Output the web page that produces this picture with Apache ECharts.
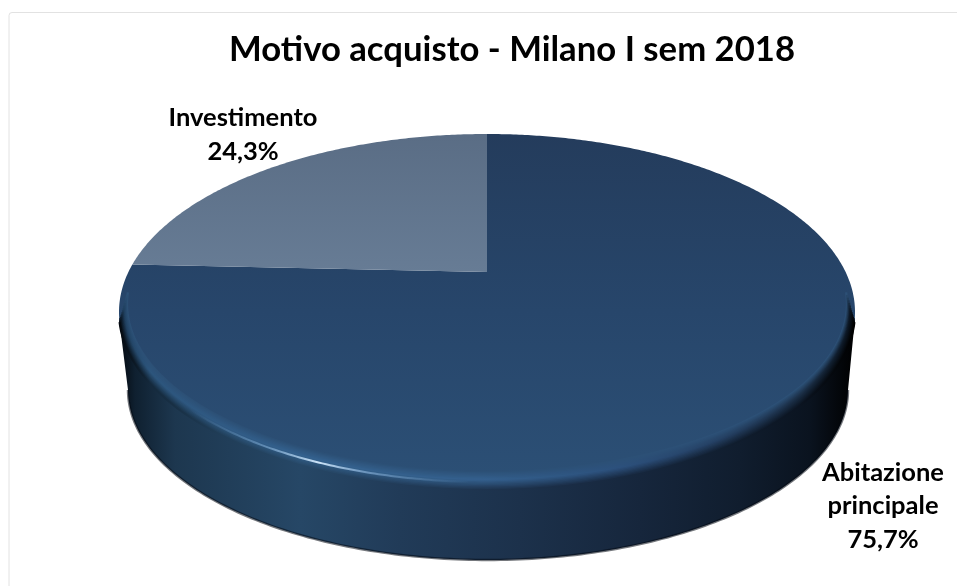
<!DOCTYPE html>
<html><head><meta charset="utf-8">
<style>html,body{margin:0;padding:0;background:#fff}#c{width:957px;height:586px}</style>
<script src="https://cdn.jsdelivr.net/npm/echarts@6/dist/echarts.min.js"></script>
</head><body><div id="c"></div>
<script>
const chartTitle = 'Motivo acquisto - Milano I sem 2018';
const categories = ['Abitazione\nprincipale', 'Investimento'];
const shares = [75.7, 24.3];
const shareLabels = ['75,7%', '24,3%'];

const G = echarts.graphic;
const W0 = 119, W1 = 855;
const lid = {cx: 487, cy: 312, rx: 368, ry: 178, k: 0.225};
const base = {cx: 488, cy: 390, rx: 360, ry: 170};
const sideStops = [[119,'#04090f'],[135,'#0f2030'],[175,'#1d374f'],[300,'#264766'],[400,'#213b58'],[520,'#1c314b'],[640,'#16263c'],[740,'#101d2e'],[810,'#0a131f'],[855,'#000000']];
const rimStops  = [[119,'#1c3a58'],[150,'#2c557c'],[300,'#34628f'],[480,'#34608e'],[620,'#2c507c'],[720,'#243f62'],[800,'#1b2f47'],[855,'#0a1420']];
const faceCol = '#2c5076';

function hex(c){return [1,3,5].map(i=>parseInt(c.substr(i,2),16));}
function mix(a,b,t){const p=hex(a),q=hex(b);return '#'+p.map((v,i)=>Math.round(v+(q[i]-v)*t).toString(16).padStart(2,'0')).join('');}
function sample(st,x){for(let i=1;i<st.length;i++){if(x<=st[i][0]){const t=(x-st[i-1][0])/(st[i][0]-st[i-1][0]);return mix(st[i-1][1],st[i][1],Math.max(0,t));}}return st[st.length-1][1];}
function hGrad(st){return new G.LinearGradient(W0,0,W1,0,st.map(s=>({offset:(s[0]-W0)/(W1-W0),color:s[1]})),true);}

// projective map: slice angle on the round disc -> point on the tilted ellipse
function disc(theta){
  const x=Math.sin(theta), y=-Math.cos(theta), k=lid.k, d=1-k*y;
  return [lid.cx+lid.rx*x*Math.sqrt(1-k*k)/d, lid.cy+lid.ry*(y-k)/d];
}
function wedge(a0,a1){
  const pts=[[lid.cx, lid.cy-lid.ry*lid.k]];
  const n=Math.max(2,Math.ceil((a1-a0)/0.01));
  for(let i=0;i<=n;i++)pts.push(disc(a0+(a1-a0)*i/n));
  return pts;
}
function arc(e,d0,d1,n){const r=[];for(let i=0;i<=n;i++){const a=(d0+(d1-d0)*i/n)*Math.PI/180;r.push([e.cx+e.rx*Math.cos(a),e.cy+e.ry*Math.sin(a)]);}return r;}

function sideParts(){
  const low=arc(base,0,180,180);
  const poly=[[W1,lid.cy+6]].concat(low,[[W0,lid.cy+6]]);
  return [
    {type:'polygon',silent:true,shape:{points:poly},style:{fill:hGrad(sideStops)}},
    {type:'polyline',silent:true,shape:{points:low},style:{fill:'none',stroke:'rgba(4,10,18,0.55)',lineWidth:2.4}}
  ];
}
function bevelParts(){
  const out=[], N=14;
  for(let j=0;j<=N;j++){
    const s=j/N;
    const e={cx:487,cy:304+8*s,rx:360+8*s,ry:168+10*s};
    const xs=[119,150,220,300,400,480,560,620,720,800,855];
    const st=xs.map(x=>{
      const rim=sample(rimStops,x), sd=sample(sideStops,x);
      const c=s<0.45?mix(faceCol,rim,s/0.45):mix(rim,sd,(s-0.45)/0.55);
      return [x,c];
    });
    const start=s<0.45?-4+10*s:0.5+5*(s-0.45);
    out.push({type:'polyline',silent:true,shape:{points:arc(e,start,180-start,180)},style:{fill:'none',stroke:hGrad(st),lineWidth:2.2}});
  }
  const e={cx:487,cy:312,rx:362,ry:170};
  const hl=new G.LinearGradient(190,0,470,0,[
    {offset:0,color:'rgba(120,170,215,0)'},{offset:0.28,color:'rgba(140,185,225,0.55)'},
    {offset:0.46,color:'rgba(205,228,248,1)'},{offset:0.62,color:'rgba(150,190,230,0.6)'},{offset:1,color:'rgba(120,170,215,0)'}],true);
  out.push({type:'polyline',silent:true,shape:{points:arc(e,93,148,80)},style:{fill:'none',stroke:hl,lineWidth:2}});
  return out;
}

function renderItem(params,api){
  const i=params.dataIndex;
  let a0=0; for(let j=0;j<i;j++)a0+=shares[j];
  const total=shares.reduce((p,c)=>p+c,0);
  const from=a0/total*2*Math.PI, to=(a0+api.value(0))/total*2*Math.PI;
  const fill=i===0
    ?new G.LinearGradient(0,134,0,490,[{offset:0,color:'#243c5c'},{offset:0.5,color:'#27466b'},{offset:1,color:faceCol}],true)
    :new G.LinearGradient(0,134,0,272,[{offset:0,color:'#5a6d85'},{offset:1,color:'#677c95'}],true);
  const kids=[];
  if(i===0)kids.push(...sideParts());
  kids.push({type:'polygon',silent:true,shape:{points:wedge(from,to)},style:{fill}});
  if(i===0)kids.push(...bevelParts());
  const pos=i===0?[883,506]:[243,135];
  kids.push({type:'text',silent:true,style:{
    text:categories[i]+'\n'+shareLabels[i],x:pos[0],y:pos[1],align:'center',verticalAlign:'middle',
    font:'bold 25.5px Lato',lineHeight:33.5,fill:'#000'}});
  return {type:'group',children:kids};
}

const chart=echarts.init(document.getElementById('c'),null,{renderer:'canvas'});
chart.setOption({
  animation:false,backgroundColor:'#fff',
  title:{text:chartTitle,left:224,top:27,textStyle:{fontFamily:'Lato',fontWeight:'bold',fontSize:34.7,color:'#000'}},
  graphic:[{type:'rect',silent:true,z:-1,shape:{x:9,y:12.5,width:1000,height:700,r:3},style:{fill:'#fff',stroke:'#e2e2e2',lineWidth:1}}],
  series:[{type:'custom',coordinateSystem:'none',renderItem,
    data:categories.map((n,i)=>({name:n,value:shares[i]}))}]
});
</script></body></html>
